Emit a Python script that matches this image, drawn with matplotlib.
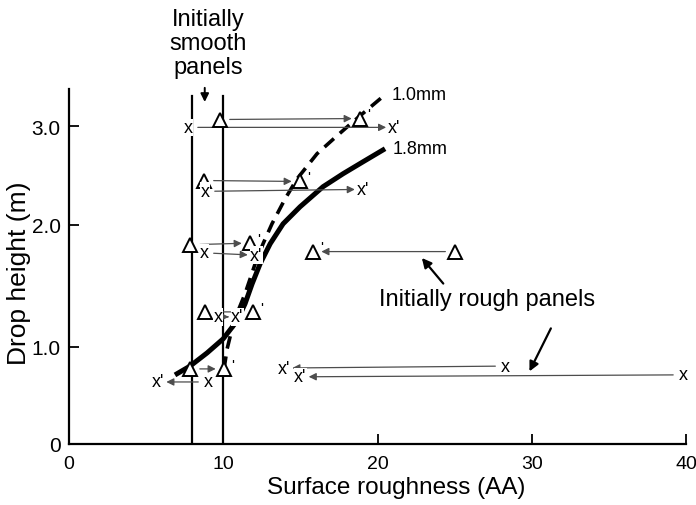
import numpy as np
import matplotlib
matplotlib.use("Agg")
import matplotlib.pyplot as plt
from matplotlib.scale import FuncScale

plt.rcParams['font.family'] = ['Liberation Sans', 'DejaVu Sans']

# ---- data ----
# 1.0 mm drop curve (dashed)
curve10_x = [10.05, 10.25, 10.57, 10.96, 11.41, 11.74, 12.13, 12.58, 13.16, 14.01, 14.79, 16.08, 17.38, 18.42, 20.49]
curve10_y = [0.771, 0.976, 1.146, 1.293, 1.433, 1.556, 1.704, 1.844, 2.01, 2.264, 2.468, 2.722, 2.905, 3.048, 3.322]
# 1.8 mm drop curve (solid)
curve18_x = [6.87, 7.85, 8.95, 9.99, 10.89, 11.41, 11.87, 12.39, 13.04, 13.88, 14.98, 16.47, 17.77, 19.07, 20.49]
curve18_y = [0.709, 0.80, 0.935, 1.063, 1.211, 1.351, 1.515, 1.68, 1.844, 2.01, 2.183, 2.387, 2.519, 2.641, 2.773]

# triangle panels: initial -> after (primed)
tri_x0 = [9.79, 8.75, 7.85, 25.03, 8.82, 7.85]
tri_y0 = [3.07, 2.45, 1.836, 1.78, 1.285, 0.771]
tri_x1 = [18.87, 14.98, 11.74, 15.82, 11.93, 10.05]
tri_y1 = [3.08, 2.44, 1.85, 1.78, 1.285, 0.771]

# x panels: initial -> after (primed)
xp_x0 = [7.72, 8.82, 8.75, 9.66, 9.01, 28.27, 39.8]
xp_y0 = [2.99, 2.34, 1.77, 1.244, 0.637, 0.80, 0.71]
xp_x1 = [21.1, 19.07, 12.13, 10.9, 5.77, 13.94, 15.0]
xp_y1 = [2.99, 2.36, 1.75, 1.244, 0.637, 0.78, 0.69]

smooth_lines_x = [8, 10]
x_ticks = [0, 10, 20, 30, 40]
x_ticklabels = ["0", "10", "20", "30", "40"]
y_ticks = [0, 1, 2, 3]
y_ticklabels = ["0", "1.0", "2.0", "3.0"]

# non-uniform vertical axis of the original figure
Y_KNOTS = [-10, 0, 1, 2, 3, 10]
Y_POS = [-9.73, 0, 0.973, 2.19, 3.173, 3.173 + 7 * 0.983]


def fwd(y):
    return np.interp(y, Y_KNOTS, Y_POS)


def inv(p):
    return np.interp(p, Y_POS, Y_KNOTS)


fig = plt.figure(figsize=(6.96, 5.06), dpi=100)
ax = fig.add_axes([69 / 696, 61 / 506, 617 / 696, 355 / 506])
ax.set_yscale(FuncScale(ax, (fwd, inv)))
ax.set_xlim(0, 40)
ax.set_ylim(0, 3.38)

for s in ['top', 'right']:
    ax.spines[s].set_visible(False)
for s in ['left', 'bottom']:
    ax.spines[s].set_linewidth(1.6)

ax.set_xticks(x_ticks)
ax.set_xticklabels(x_ticklabels)
ax.set_yticks(y_ticks)
ax.set_yticklabels(y_ticklabels)
ax.tick_params(direction='in', length=7, width=1.3)
ax.tick_params(axis='x', labelsize=14, pad=8)
ax.tick_params(axis='y', labelsize=15, pad=6)
ax.set_xlabel("Surface roughness (AA)", fontsize=17.5)
ax.set_ylabel("Drop height (m)", fontsize=19)
ax.xaxis.set_label_coords(0.53, -0.09)
ax.yaxis.set_label_coords(-0.062, 0.485)

# vertical lines for initially smooth panels
for xv in smooth_lines_x:
    ax.plot([xv, xv], [0, 3.31], color='black', lw=1.6, zorder=2)

# curves
ax.plot(curve18_x, curve18_y, color='black', lw=3.6, solid_capstyle='butt', zorder=3)
ax.plot(curve10_x, curve10_y, color='black', lw=2.6, dashes=(3.5, 2.2), zorder=3)
ax.text(20.9, 3.322, "1.0mm", fontsize=13, va='center', ha='left')
ax.text(21.0, 2.773, "1.8mm", fontsize=13, va='center', ha='left')

arrow_kw = dict(arrowstyle='-|>', lw=0.9, color='0.3', mutation_scale=11,
                shrinkA=7, shrinkB=6)

# triangle markers and arrows
for x0, y0, x1, y1 in zip(tri_x0, tri_y0, tri_x1, tri_y1):
    ax.annotate('', xy=(x1, y1), xytext=(x0, y0), arrowprops=arrow_kw, zorder=4)
ax.plot(tri_x0, tri_y0, ls='none', marker='^', ms=10, mfc='white', mec='black', mew=1.4, zorder=5)
ax.plot(tri_x1, tri_y1, ls='none', marker='^', ms=10, mfc='white', mec='black', mew=1.4, zorder=5)
for x1, y1 in zip(tri_x1, tri_y1):
    ax.annotate("'", xy=(x1, y1), xytext=(5, 3), textcoords='offset points',
                fontsize=11, ha='left', va='center', zorder=6)

# x markers and arrows
for x0, y0, x1, y1 in zip(xp_x0, xp_y0, xp_x1, xp_y1):
    ax.annotate('', xy=(x1, y1), xytext=(x0, y0), arrowprops=arrow_kw, zorder=4)
for x0, y0 in zip(xp_x0, xp_y0):
    ax.text(x0, y0, "x", fontsize=13, ha='center', va='center', zorder=6,
            bbox=dict(boxstyle='square,pad=0.02', fc='white', ec='none'))
for x1, y1 in zip(xp_x1, xp_y1):
    ax.text(x1, y1, "x'", fontsize=13, ha='center', va='center', zorder=6,
            bbox=dict(boxstyle='square,pad=0.02', fc='white', ec='none'))

# annotations
ax.text(9.0, 3.85, "Initially\nsmooth\npanels", fontsize=17, ha='center', va='center',
        linespacing=1.12, clip_on=False)
ax.annotate('', xy=(8.8, 3.22), xytext=(8.8, 3.42), annotation_clip=False,
            arrowprops=dict(arrowstyle='-|>', lw=1.4, color='black', mutation_scale=12))

ax.text(27.1, 1.39, "Initially rough panels", fontsize=17, ha='center', va='center')
ax.annotate('', xy=(22.76, 1.745), xytext=(24.38, 1.50),
            arrowprops=dict(arrowstyle='-|>', lw=1.6, color='black', mutation_scale=14))
ax.annotate('', xy=(29.77, 0.72), xytext=(31.32, 1.17),
            arrowprops=dict(arrowstyle='-|>', lw=1.6, color='black', mutation_scale=14))

fig.savefig("out.png", dpi=100)
